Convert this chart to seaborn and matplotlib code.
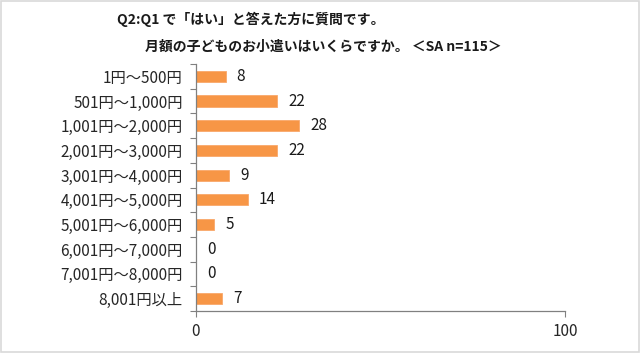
import matplotlib
matplotlib.use("Agg")
import matplotlib.pyplot as plt
import seaborn as sns
import pandas as pd
import numpy as np
from matplotlib.patches import Rectangle

categories = ["1円～500円", "501円～1,000円", "1,001円～2,000円", "2,001円～3,000円",
              "3,001円～4,000円", "4,001円～5,000円", "5,001円～6,000円",
              "6,001円～7,000円", "7,001円～8,000円", "8,001円以上"]
values = [8, 22, 28, 22, 9, 14, 5, 0, 0, 7]
x_ticks = [0, 100]
title1 = "Q2:Q1 で「はい」と答えた方に質問です。"
title2 = "月額の子どものお小遣いはいくらですか。 ＜SA n=115＞"

sns.set_theme(style="white")
plt.rcParams['font.family'] = ['Noto Sans CJK JP', 'DejaVu Sans']

df = pd.DataFrame({"cat": categories, "val": values})

fig = plt.figure(figsize=(6.4, 3.53), dpi=100)
ax = fig.add_axes([196/640, 1-311/353, (565-196)/640, (311-64)/353])
sns.barplot(data=df, x="val", y="cat", color="#F79646", width=0.45, ax=ax,
            saturation=1, edgecolor="#F9A86A", linewidth=0.6)

ax.set_xlim(0, 100)
ax.set_ylim(len(categories)-0.5, -0.5)
ax.set_xlabel("")
ax.set_ylabel("")
ax.set_xticks(x_ticks)
ax.set_xticklabels([str(t) for t in x_ticks], fontsize=11)
ax.tick_params(axis="x", length=4, width=0.8, color="#808080", direction="out", pad=5, bottom=True)
ax.set_yticks(range(len(categories)))
ax.set_yticklabels(categories, fontsize=11)
ax.tick_params(axis="y", which="major", length=0, pad=9.5)
ax.set_yticks(np.arange(-0.5, len(categories), 1.0), minor=True)
ax.tick_params(axis="y", which="minor", length=4, width=0.8, color="#808080", left=True)
for s in ["top", "right"]:
    ax.spines[s].set_visible(False)
for s in ["left", "bottom"]:
    ax.spines[s].set_visible(True)
    ax.spines[s].set_color("#808080")
    ax.spines[s].set_linewidth(0.9)

for i, v in enumerate(values):
    ax.text(v + 3.0, i, str(v), va="center", ha="left", fontsize=11, color="#1a1a1a")

fig.text(117/640, 1-19/353, title1, fontsize=10, fontweight="bold", va="center", ha="left", color="#1a1a1a")
fig.text(145/640, 1-47/353, title2, fontsize=10, fontweight="bold", va="center", ha="left", color="#1a1a1a")

fig.patches.append(Rectangle((0.002, 0.003), 0.996, 0.994, transform=fig.transFigure,
                             fill=False, edgecolor="#D9D9D9", linewidth=1.2))

fig.savefig("out.png", dpi=100)
